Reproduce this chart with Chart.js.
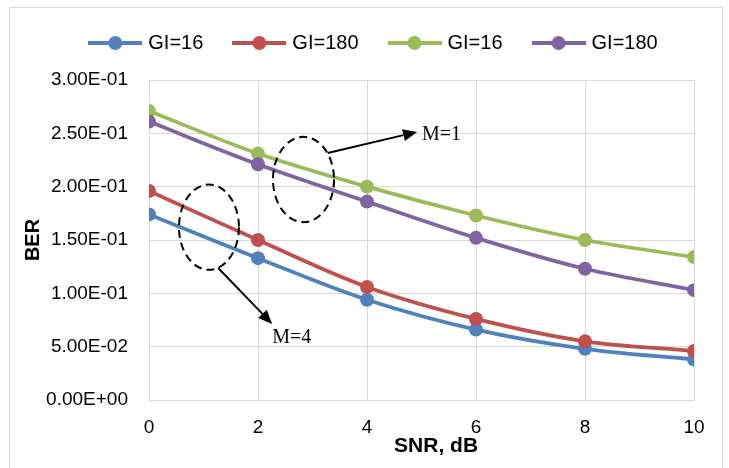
<!DOCTYPE html>
<html>
<head>
<meta charset="utf-8">
<script src="https://cdn.jsdelivr.net/npm/chart.js@4.4.1/dist/chart.umd.min.js"></script>
<style>
  body { margin: 0; background: #fff; }
  #wrap { position: relative; width: 729px; height: 468px; overflow: hidden; }
  #frame { position: absolute; left: 9px; top: 7px; width: 712px; height: 480px; border: 1px solid #d9d9d9; }
  canvas { position: absolute; left: 0; top: 0; }
</style>
</head>
<body>
<div id="wrap">
  <div id="frame"></div>
  <canvas id="ber-chart" width="729" height="468"></canvas>
</div>
<script>
// SNR (dB) on x, BER on y
const snr = [0, 2, 4, 6, 8, 10];
const seriesNames = ['GI=16', 'GI=180', 'GI=16', 'GI=180'];
const berGi16M4 = [0.174, 0.133, 0.094, 0.066, 0.048, 0.038];
const berGi180M4 = [0.196, 0.150, 0.106, 0.076, 0.055, 0.046];
const berGi16M1 = [0.271, 0.231, 0.200, 0.173, 0.150, 0.134];
const berGi180M1 = [0.261, 0.221, 0.186, 0.152, 0.123, 0.103];
const colors = ['#4f81bd', '#c0504d', '#9bbb59', '#8064a2'];

// annotation groups (data units)
const notes = ['M=1', 'M=4'];
const ringCx = [2.835, 1.10];
const ringCy = [0.2067, 0.162];
const ringRx = [0.56, 0.55];
const ringRy = [0.040, 0.040];
const arrowFrom = [[3.28, 0.2316], [1.27, 0.1238]];
const arrowTo = [[4.92, 0.2513], [2.26, 0.0713]];
const noteAt = [[5.01, 0.2484], [2.26, 0.0581]];

const FONT = '"Liberation Sans", Arial, sans-serif';

function pts(vals) {
    return snr.map((x, i) => ({x: x, y: vals[i]}));
}

function legendIcon(color) {
    const c = document.createElement('canvas');
    c.width = 54; c.height = 16;
    const g = c.getContext('2d');
    g.strokeStyle = color;
    g.lineWidth = 4;
    g.beginPath(); g.moveTo(0, 8); g.lineTo(54, 8); g.stroke();
    g.fillStyle = color;
    g.beginPath(); g.arc(27, 8, 7, 0, Math.PI * 2); g.fill();
    return c;
}

function sci(v) {
    const s = Number(v).toExponential(2).split('e');
    const e = parseInt(s[1], 10);
    return s[0] + 'E' + (e < 0 ? '-' : '+') + String(Math.abs(e)).padStart(2, '0');
}

const allSeries = [berGi16M4, berGi180M4, berGi16M1, berGi180M1];

const data = {
    datasets: allSeries.map((vals, i) => ({
        label: seriesNames[i],
        data: pts(vals),
        borderColor: colors[i],
        backgroundColor: colors[i],
        borderWidth: 3.75,
        pointRadius: 7,
        pointBorderWidth: 0,
        pointBackgroundColor: colors[i],
        tension: 0.35,
        order: 4 - i
    }))
};

// fixed legend band height, and nudge it right like the original
const legendBox = {
    id: 'legendBox',
    beforeInit(chart) {
        const fit = chart.legend.fit;
        chart.legend.fit = function () {
            fit.call(this);
            this.height = 80;
        };
    },
    afterLayout(chart) {
        chart.legend.left += 28;
        chart.legend.right += 28;
    }
};

const groups = {
    id: 'groups',
    afterDatasetsDraw(chart) {
        const ctx = chart.ctx;
        const xs = chart.scales.x, ys = chart.scales.y;
        ctx.save();
        ctx.strokeStyle = '#000';
        ctx.fillStyle = '#000';
        for (let i = 0; i < notes.length; i++) {
            // dashed ring
            const cx = xs.getPixelForValue(ringCx[i]);
            const cy = ys.getPixelForValue(ringCy[i]);
            const rx = xs.getPixelForValue(ringCx[i] + ringRx[i]) - cx;
            const ry = cy - ys.getPixelForValue(ringCy[i] + ringRy[i]);
            ctx.lineWidth = 2;
            ctx.setLineDash([8, 5]);
            ctx.beginPath();
            ctx.ellipse(cx, cy, rx, ry, 0, 0, Math.PI * 2);
            ctx.stroke();
            ctx.setLineDash([]);

            // arrow
            const x1 = xs.getPixelForValue(arrowFrom[i][0]), y1 = ys.getPixelForValue(arrowFrom[i][1]);
            const x2 = xs.getPixelForValue(arrowTo[i][0]), y2 = ys.getPixelForValue(arrowTo[i][1]);
            const a = Math.atan2(y2 - y1, x2 - x1);
            const head = 14, half = 6;
            const bx = x2 - head * Math.cos(a), by = y2 - head * Math.sin(a);
            ctx.lineWidth = 2;
            ctx.beginPath(); ctx.moveTo(x1, y1); ctx.lineTo(bx, by); ctx.stroke();
            ctx.beginPath();
            ctx.moveTo(x2, y2);
            ctx.lineTo(bx + half * Math.sin(a), by - half * Math.cos(a));
            ctx.lineTo(bx - half * Math.sin(a), by + half * Math.cos(a));
            ctx.closePath();
            ctx.fill();

            // label
            ctx.font = '20px "Liberation Serif", "Times New Roman", serif';
            ctx.textAlign = 'left';
            ctx.textBaseline = 'middle';
            ctx.fillText(notes[i], xs.getPixelForValue(noteAt[i][0]), ys.getPixelForValue(noteAt[i][1]));
        }
        ctx.restore();
    }
};

const config = {
    type: 'line',
    data: data,
    options: {
        responsive: false,
        animation: false,
        layout: { padding: { top: 0, right: 35, bottom: 0, left: 0 } },
        plugins: {
            tooltip: { enabled: false },
            legend: {
                position: 'top',
                labels: {
                    usePointStyle: true,
                    pointStyleWidth: 46,
                    padding: 33,
                    color: '#000',
                    font: { family: FONT, size: 20 },
                    generateLabels(chart) {
                        const items = Chart.defaults.plugins.legend.labels.generateLabels(chart);
                        items.sort((a, b) => a.datasetIndex - b.datasetIndex);
                        items.forEach(it => { it.pointStyle = legendIcon(colors[it.datasetIndex]); });
                        return items;
                    }
                }
            }
        },
        scales: {
            x: {
                type: 'linear',
                min: 0,
                max: 10,
                afterFit(s) { s.height = 68; },
                ticks: { stepSize: 2, padding: 16, color: '#000', font: { family: FONT, size: 19 } },
                grid: { color: '#d9d9d9', drawTicks: false },
                border: { color: '#d9d9d9' },
                title: {
                    display: true,
                    text: '     SNR, dB',
                    color: '#000',
                    font: { family: FONT, size: 21, weight: 'bold' },
                    padding: { top: 0, bottom: 9 }
                }
            },
            y: {
                min: 0,
                max: 0.3,
                afterFit(s) { s.width = 149; },
                ticks: { stepSize: 0.05, padding: 21, color: '#000', font: { family: FONT, size: 19 }, callback: v => sci(v) },
                grid: { color: '#d9d9d9', drawTicks: false },
                border: { color: '#d9d9d9' },
                title: {
                    display: true,
                    text: 'BER',
                    color: '#000',
                    font: { family: FONT, size: 20, weight: 'bold' },
                    padding: { top: 21, bottom: 0 }
                }
            }
        }
    },
    plugins: [legendBox, groups]
};

const berChart = new Chart(document.getElementById('ber-chart'), config);
</script>
</body>
</html>
